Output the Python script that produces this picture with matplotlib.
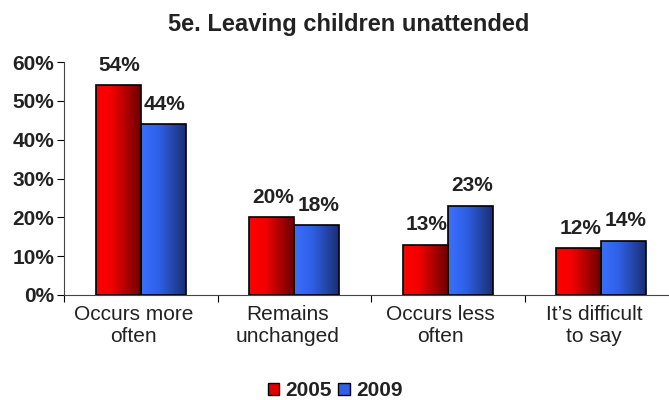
import numpy as np
import matplotlib
matplotlib.use("Agg")
import matplotlib.pyplot as plt
import matplotlib.transforms as mtransforms
from matplotlib.colors import LinearSegmentedColormap
from matplotlib.patches import Patch

plt.rcParams["font.family"] = ["Liberation Sans", "DejaVu Sans"]

categories = ["Occurs more\noften", "Remains\nunchanged", "Occurs less\noften", "It\u2019s difficult\nto say"]
years = ["2005", "2009"]
values_2005 = [54, 20, 13, 12]
values_2009 = [44, 18, 23, 14]
y_ticks = [0, 10, 20, 30, 40, 50, 60]

TEXT = "#222222"
red_cmap = LinearSegmentedColormap.from_list(
    "r", [(0, "#ff0000"), (0.35, "#f20000"), (1, "#6a0000")])
blue_cmap = LinearSegmentedColormap.from_list(
    "b", [(0, "#3a70ff"), (0.4, "#2f60e6"), (1, "#1a2f70")])

fig = plt.figure(figsize=(6.69, 4.0), dpi=100)
# axes run a little past the right edge, like the original export
ax = fig.add_axes([64 / 669, 105 / 400, 614 / 669, 233 / 400])

width = 0.293
x = np.arange(len(categories))
grad = np.linspace(0, 1, 256).reshape(1, -1)


def gradient_bars(xs, vals, cmap):
    bars = ax.bar(xs, vals, width, align="edge", facecolor="none",
                  edgecolor="black", linewidth=1.2, zorder=3)
    for b in bars:
        x0, y0 = b.get_x(), b.get_y()
        im = ax.imshow(grad, cmap=cmap, aspect="auto", zorder=2,
                       extent=[x0, x0 + b.get_width(), y0, y0 + b.get_height()])
        im.set_clip_path(b)
    return bars


b1 = gradient_bars(x - width, values_2005, red_cmap)
b2 = gradient_bars(x, values_2009, blue_cmap)

for bars in (b1, b2):
    for b in bars:
        ax.annotate(f"{b.get_height():.0f}%",
                    (b.get_x() + b.get_width() / 2, b.get_height()),
                    xytext=(1, 7.5), textcoords="offset points",
                    ha="center", va="bottom", fontsize=15,
                    fontweight="bold", color=TEXT)

ax.set_xlim(-0.5, len(categories) - 0.5)
ax.set_ylim(0, 60)
ax.set_yticks(y_ticks)
ax.set_yticklabels([f"{t}%" for t in y_ticks], fontsize=15,
                   fontweight="bold", color=TEXT)
ax.set_xticks(np.arange(len(categories) + 1) - 0.5)
ax.set_xticklabels([])
ax.set_xticks(x, minor=True)
ax.set_xticklabels(categories, minor=True, fontsize=15, color=TEXT,
                   linespacing=1.25)
ax.tick_params(axis="x", which="minor", length=0, pad=7)
ax.tick_params(axis="x", which="major", length=5, direction="out")
ax.tick_params(axis="y", length=5, direction="out", pad=2)

# category labels sit slightly left of the group centres in the original
shift = mtransforms.ScaledTranslation(-7 / 100, 0, fig.dpi_scale_trans)
for lbl in ax.get_xticklabels(minor=True):
    lbl.set_transform(lbl.get_transform() + shift)

for s in ("top", "right"):
    ax.spines[s].set_visible(False)
ax.spines["left"].set_color("#444444")
ax.spines["bottom"].set_color("#444444")

fig.text(349 / 669, 1 - 25 / 400, "5e. Leaving children unattended",
         ha="center", va="center", fontsize=17, fontweight="bold",
         color=TEXT)

handles = [Patch(facecolor="#e00000", edgecolor="black", linewidth=1),
           Patch(facecolor="#2f60e6", edgecolor="black", linewidth=1)]
fig.legend(handles, years, loc="center", bbox_to_anchor=(335 / 669, 1 - 391 / 400),
           ncol=2, frameon=False, handlelength=0.55, handleheight=0.55,
           handletextpad=0.3, columnspacing=0.3,
           prop={"size": 15, "weight": "bold"}, labelcolor=TEXT)

fig.savefig("out.png", dpi=100)
